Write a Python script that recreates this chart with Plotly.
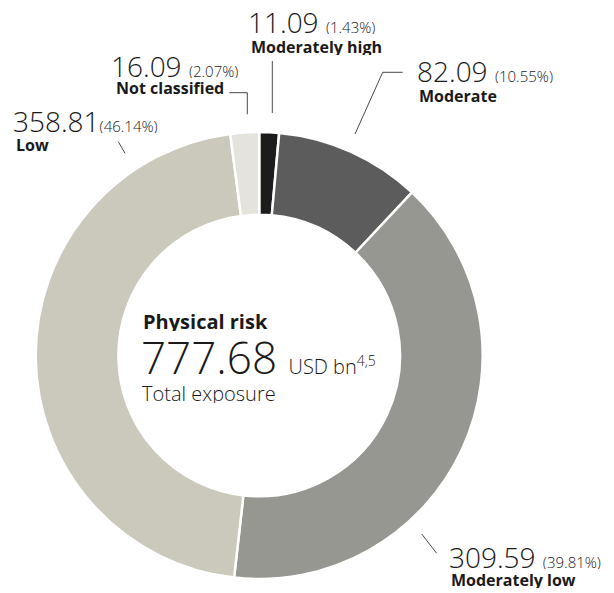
import plotly.graph_objects as go

categories = ["Moderately high", "Moderate", "Moderately low", "Low", "Not classified"]
values = [11.09, 82.09, 309.59, 358.81, 16.09]
percents = ["1.43%", "10.55%", "39.81%", "46.14%", "2.07%"]
colors = ["#1c1c1c", "#5b5c5b", "#979791", "#cbc9bc", "#e4e3dc"]
total = 777.68

W, H = 614, 593
FONT = "Open Sans"


def px(x):
    return x / W


def py(y):
    return 1 - y / H


fig = go.Figure()
fig.add_trace(go.Pie(
    labels=categories,
    values=values,
    marker=dict(colors=colors, line=dict(color="white", width=2.5)),
    hole=0.63,
    sort=False,
    direction="clockwise",
    rotation=0,
    textinfo="none",
    hoverinfo="label+value+percent",
    showlegend=False,
    domain=dict(x=[px(35.7), px(482.7)], y=[py(579), py(132)]),
))

# label placement (pixel positions for value line and label line)
label_pos = {
    "Moderately high": (246, 22, 249, 47),
    "Moderate": (415, 71, 417, 96),
    "Moderately low": (447, 557, 449, 580),
    "Low": (11, 121, 14, 145),
    "Not classified": (109, 66, 114, 88),
}
annotations = []
for cat, val, pct in zip(categories, values, percents):
    vx, vy, lx, ly = label_pos[cat]
    sep = "" if cat == "Low" else " "
    annotations.append(dict(
        x=px(vx), y=py(vy), xref="paper", yref="paper", xanchor="left", yanchor="middle",
        text=f"{val:.2f}{sep}<span style='font-size:15px'>({pct})</span>",
        height=24, valign="middle",
        showarrow=False, font=dict(family=FONT, size=28, color="#1a1a1a", weight=300),
    ))
    annotations.append(dict(
        x=px(lx), y=py(ly), xref="paper", yref="paper", xanchor="left", yanchor="middle",
        text=f"<b>{cat}</b>", height=16, valign="middle",
        showarrow=False, font=dict(family=FONT, size=16, color="#1a1a1a"),
    ))

# center text
annotations.append(dict(
    x=px(141), y=py(321), xref="paper", yref="paper", xanchor="left", yanchor="middle",
    text="<b>Physical risk</b>", showarrow=False, height=20, valign="middle",
    font=dict(family=FONT, size=20, color="#1a1a1a"),
))
annotations.append(dict(
    x=px(139), y=py(357), xref="paper", yref="paper", xanchor="left", yanchor="middle",
    text=f"{total:.2f} <span style='font-size:20px'>USD bn<sup>4,5</sup></span>", showarrow=False,
    height=34, valign="middle",
    font=dict(family=FONT, size=44, color="#1a1a1a", weight=300),
))
annotations.append(dict(
    x=px(140), y=py(393), xref="paper", yref="paper", xanchor="left", yanchor="middle",
    text="Total exposure", showarrow=False, height=20, valign="middle",
    font=dict(family=FONT, size=20, color="#1a1a1a", weight=300),
))

# leader lines (pixel paths)
leaders = [
    [(272.3, 61), (272.3, 113)],
    [(229.3, 92.7), (247.3, 92.7), (247.3, 114.3)],
    [(355, 134), (382.7, 72.3), (402.7, 72.3)],
    [(118.3, 141.7), (125, 153.3)],
    [(421.7, 534), (436.7, 553.3)],
]
shapes = []
for pts in leaders:
    path = "M " + " L ".join(f"{px(x):.5f},{py(y):.5f}" for x, y in pts)
    shapes.append(dict(type="path", xref="paper", yref="paper", path=path,
                       line=dict(color="#4a4a4a", width=1)))

fig.update_layout(
    width=W, height=H,
    margin=dict(l=0, r=0, t=0, b=0),
    paper_bgcolor="white", plot_bgcolor="white",
    annotations=annotations, shapes=shapes,
)

fig.write_html(
    "out.html",
    config={"displayModeBar": False},
    post_script="document.body.style.margin='0';document.body.style.overflow='hidden';",
)
